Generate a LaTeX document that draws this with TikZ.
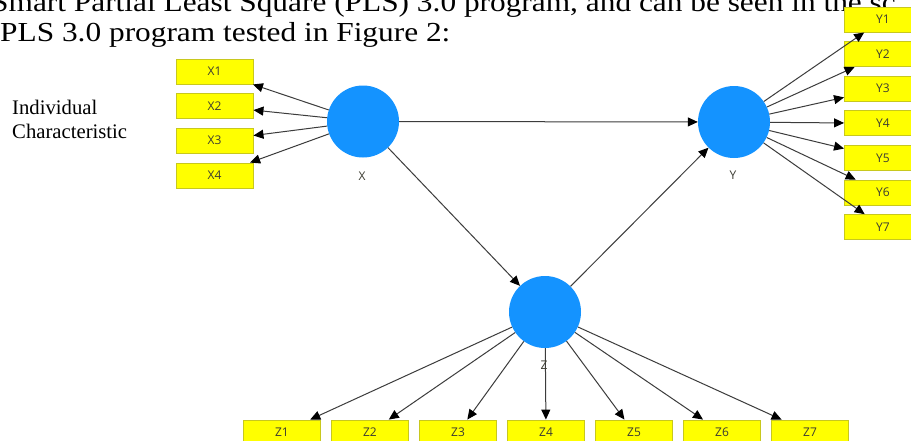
\documentclass[tikz,border=0pt]{standalone}
\usepackage{fontspec}
\usepackage{graphicx}
\setmainfont{Liberation Serif}
\newfontfamily\boxfont{Open Sans}
\usetikzlibrary{arrows.meta}
\definecolor{circblue}{RGB}{20,147,255}
\definecolor{boxyellow}{RGB}{255,255,0}
\definecolor{boxedge}{RGB}{200,200,30}
\definecolor{linegray}{RGB}{60,60,60}
\definecolor{labgray}{RGB}{60,60,50}
\begin{document}
\begin{tikzpicture}[x=1pt,y=-1pt,
 latent/.style={circle,fill=circblue,minimum size=72pt,inner sep=0pt},
 indicator/.style={rectangle,fill=boxyellow,draw=boxedge,line width=0.9pt,minimum width=77pt,minimum height=25pt,inner sep=0pt,font=\boxfont\fontsize{12}{14}\selectfont,text=labgray},
 latlabel/.style={font=\boxfont\fontsize{12}{14}\selectfont,text=labgray,inner sep=0pt},
 link/.style={draw=linegray,line width=1pt,-{Triangle[length=10pt,width=9pt,color=black]}},
 heading/.style={font=\fontsize{27.5}{33}\selectfont,inner sep=0pt,anchor=base west},
 side/.style={font=\fontsize{20.7}{25}\selectfont,inner sep=0pt,anchor=base west}
]
\useasboundingbox (0,0) rectangle (911,440);
\clip (0,0) rectangle (911,440);
\fill[white] (0,0) rectangle (911,440);

\node[heading] (h1) at (-9,11) {\scalebox{1.14}[1]{Smart Partial Least Square (PLS) 3.0 program, and can be seen in the sc}};
\node[heading] (h2) at (0,41) {\scalebox{1.14}[1]{PLS 3.0 program tested in Figure 2:}};

\node[side] (s1) at (12,114) {Individual};
\node[side] (s2) at (12,138) {Characteristic};

\node[latent] (X) at (363,121.5) {};
\node[latent] (Y) at (734,122) {};
\node[latent] (Z) at (545,312) {};

\foreach \i/\yy in {1/71.5,2/106,3/140.5,4/175.5}
  \node[indicator] (X\i) at (214.5,\yy) {X\i};
\foreach \i in {1,...,7}
  \node[indicator] (Y\i) at (883,{19.5+34.6*(\i-1)}) {Y\i};
\foreach \i in {1,...,7}
  \node[indicator] (Z\i) at ({282+88*(\i-1)},432.5) {Z\i};

\foreach \i in {1,...,4} \draw[link] (X) -- (X\i);
\foreach \i in {1,...,7} \draw[link] (Y) -- (Y\i);
\foreach \i in {1,...,7} \draw[link] (Z) -- (Z\i);
\draw[link] (X) -- (Y);
\draw[link] (X) -- (Z);
\draw[link] (Z) -- (Y);

\node[latlabel] (Xl) at (362,176) {X};
\node[latlabel] (Yl) at (733,175) {Y};
\node[latlabel] (Zl) at (544,365) {Z};
\end{tikzpicture}
\end{document}
